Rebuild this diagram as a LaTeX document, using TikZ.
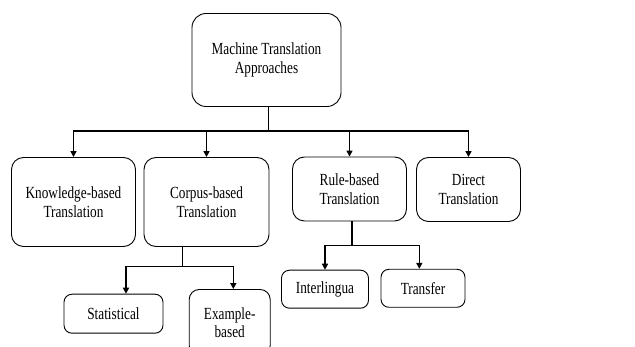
\documentclass[tikz,border=0pt]{standalone}
\usepackage{fontspec}
\setmainfont{Liberation Serif}[FakeStretch=0.78]
\usetikzlibrary{arrows.meta}
\begin{document}
\begin{tikzpicture}[x=1pt,y=-1pt,
  box/.style={draw, line width=0.9pt, rounded corners=#1, align=center,
    font=\fontsize{17}{18.5}\selectfont, inner sep=0pt},
  box/.default=12pt,
  conn/.style={line width=1.5pt},
  arr/.style={line width=1.5pt, -{Triangle[width=6pt,length=6pt]}}]
\useasboundingbox (0,0) rectangle (635,347);
\clip (0,0) rectangle (635,347);
\fill[white] (0,0) rectangle (635,347);

% main box
\node[box=14pt, minimum width=149pt, minimum height=93pt] (top) at (266.5,60)
  {Machine Translation\\Approaches};

% second level
\node[box, minimum width=124pt, minimum height=89pt] (know) at (73.5,202)
  {Knowledge-based\\Translation};
\node[box, minimum width=125pt, minimum height=89pt] (corpus) at (206.5,202)
  {Corpus-based\\Translation};
\node[box, minimum width=114pt, minimum height=64pt] (rule) at (349.5,189)
  {Rule-based\\Translation};
\node[box, minimum width=104pt, minimum height=64pt] (direct) at (468.5,189.5)
  {Direct\\Translation};

% third level
\node[box=8pt, minimum width=99pt, minimum height=39pt] (stat) at (113.5,313.7)
  {Statistical};
\node[box=10pt, minimum width=81pt, minimum height=66pt] (example) at (229.7,322.5)
  {Example-\\based};
\node[box=8pt, minimum width=87pt, minimum height=38pt] (inter) at (325,289.2)
  {Interlingua};
\node[box=8pt, minimum width=84pt, minimum height=38pt] (transfer) at (423,288.3)
  {Transfer};

% connectors
\coordinate (bus) at (268.3,131);
\coordinate (cbus) at (182.7,266.7);
\coordinate (rbus) at (352,245.7);

\draw[conn] (top.south -| bus) -- (bus);
\draw[arr] (bus) -| (know.north);
\draw[arr] (bus) -| (corpus.north);
\draw[arr] (bus) -| (rule.north);
\draw[arr] (bus) -| (direct.north);

\draw[conn] (corpus.south -| cbus) -- (cbus);
\draw[arr] (cbus) -| (stat.north -| 126,0);
\draw[arr] (cbus) -| (example.north -| 233.3,0);

\draw[conn] (rule.south -| rbus) -- (rbus);
\draw[arr] (rbus) -| (inter.north -| 325,0);
\draw[arr] (rbus) -| (transfer.north -| 419.3,0);
\end{tikzpicture}
\end{document}
